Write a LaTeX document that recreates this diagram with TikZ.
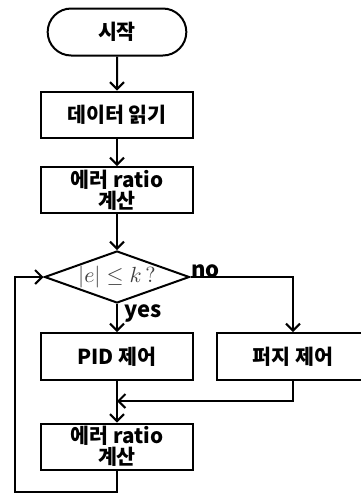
\documentclass[tikz,border=0pt]{standalone}
\usepackage{fontspec}
\setmainfont{Noto Sans CJK KR}
\usetikzlibrary{shapes.geometric,shapes.misc,arrows.meta}

\begin{document}
\begin{tikzpicture}[x=0.5pt,y=-0.5pt,line width=1pt,
  font=\fontsize{10.3}{10.5}\selectfont\bfseries,
  every path/.style={line width=1pt},
  flow/.style={-{Straight Barb[length=3.5pt,width=7pt,line width=1pt]}},
  tag/.style={font=\fontsize{11}{11}\selectfont\bfseries},
  box/.style={rectangle,draw,minimum width=76pt,minimum height=23pt,inner sep=1pt,align=center},
  term/.style={rounded rectangle,draw,minimum width=76pt,minimum height=23.5pt},
  test/.style={diamond,draw,aspect=2.8,inner sep=0pt,minimum width=72.5pt,minimum height=26pt}]
  \useasboundingbox (0,0) rectangle (360,493);

  \node [term] (start) at (117,32) {시작};
  \node [box] (read) at (117,114.5) {데이터 읽기};
  \node [box] (calc) at (117,190) {에러 ratio\\계산};
  \node [test] (check) at (117,277) {\color{black!75}\fontsize{10.5}{11}\selectfont$|e|\leq k\,?$};
  \node [box,minimum height=23.5pt] (pid) at (117,356.5) {PID 제어};
  \node [box,minimum height=23.5pt] (fuzzy) at (293,356.5) {퍼지 제어};
  \node [box] (recalc) at (117,446.5) {에러 ratio\\계산};

  \coordinate (join) at (117,401);
  \coordinate (back) at (15,492);

  \draw [flow] (start) -- (read);
  \draw [flow] (read) -- (calc);
  \draw [flow] (calc) -- (check);
  \draw [flow] (check.south) -- node [right,tag,pos=0.35] {yes} (pid);
  \draw [flow] (check.east) node [above right,inner sep=0pt,yshift=-1pt,tag] {no} -| (fuzzy);
  \draw [flow] (fuzzy.south) |- (join);
  \draw [flow] (pid) -- (recalc);
  \draw [flow] (recalc.south) -- (recalc |- back) -- (back) |- (check.west);
\end{tikzpicture}
\end{document}
